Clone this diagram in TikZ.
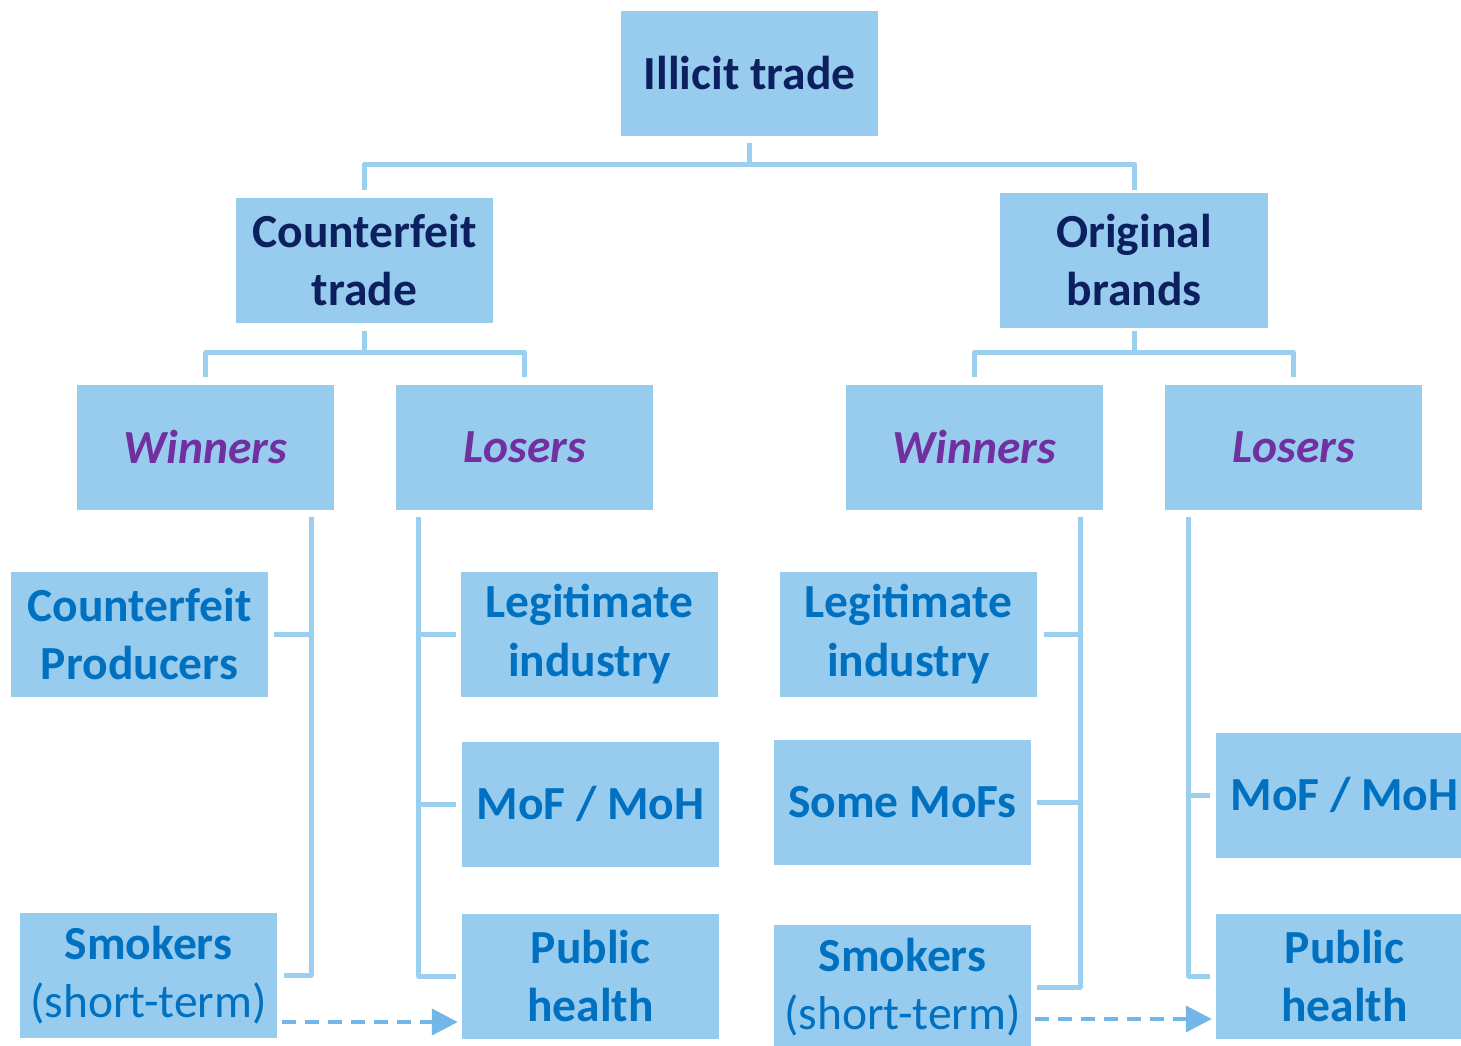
\documentclass[tikz,border=0pt]{standalone}
\usepackage{fontspec}
\setmainfont{Carlito}
\usetikzlibrary{positioning, calc, arrows.meta}

\definecolor{boxblue}{HTML}{98CCEE}
\definecolor{linkblue}{HTML}{9ACFEF}
\definecolor{arrowblue}{HTML}{72B7E8}
\definecolor{navytext}{HTML}{0C1F5E}
\definecolor{purpletext}{HTML}{7030A0}
\definecolor{leaftext}{HTML}{0070C0}

\tikzset{
  box/.style={fill=boxblue, inner sep=0pt, minimum width=257pt, minimum height=125pt,
              align=center, font=\fontsize{47.5}{58.5}\selectfont\bfseries},
  head/.style={box, text=navytext},
  side/.style={box, text=purpletext, font=\fontsize{47.5}{58.5}\selectfont\bfseries\itshape},
  leaf/.style={box, text=leaftext},
  link/.style={draw=linkblue, line width=5pt, line join=round},
  dasharrow/.style={draw=arrowblue, line width=4pt, dash pattern=on 14pt off 9pt,
                    -{Triangle[length=26pt, width=26pt]}}
}

\begin{document}
\begin{tikzpicture}[x=1pt, y=-1pt]
  \clip (0,0) rectangle (1461,1046);

  % top levels
  \node[head] (top) at (749.5,73.5) {Illicit trade};
  \node[head] (ct) at (364.5,260) {Counterfeit\\trade};
  \node[head, minimum width=268pt, minimum height=135pt] (ob) at (1134,260) {Original\\brands};

  \node[side] (wL) at (205.5,447) {Winners};
  \node[side] (lL) at (524.5,447) {Losers};
  \node[side] (wR) at (974.5,447) {Winners};
  \node[side] (lR) at (1293.5,447) {Losers};

  % counterfeit trade leaves
  \node[leaf] (cp) at (139.5,634) {Counterfeit\\Producers};
  \node[leaf] (smL) at (148.5,975) {Smokers\\{\mdseries(short-term)}};
  \node[leaf] (liL) at (589.5,634) {Legitimate\\industry};
  \node[leaf] (moL) at (590.5,804) {MoF / MoH};
  \node[leaf] (phL) at (590.5,976) {Public\\health};

  % original brands leaves
  \node[leaf] (liR) at (908.5,634) {Legitimate\\industry};
  \node[leaf] (smf) at (902.5,802) {Some MoFs};
  \node[leaf] (smR) at (902.5,987) {Smokers\\{\mdseries(short-term)}};
  \node[leaf] (moR) at (1344.5,795) {MoF / MoH};
  \node[leaf] (phR) at (1344.5,976) {Public\\health};

  % tree links
  \draw[link] ([yshift=-7pt]top.south) -- ++(0,21) coordinate (topbus);
  \draw[link] ([yshift=7pt]ct.north) |- (topbus) -| ([yshift=2pt]ob.north);

  \draw[link] ([yshift=-8pt]ct.south) -- ++(0,22) coordinate (ctbus);
  \draw[link] ([yshift=7pt]wL.north) |- (ctbus) -| ([yshift=7pt]lL.north);

  \draw[link] ([yshift=-3pt]ob.south) -- ++(0,22) coordinate (obbus);
  \draw[link] ([yshift=7pt]wR.north) |- (obbus) -| ([yshift=7pt]lR.north);

  % brackets
  \coordinate (wLbus) at ([shift={(-23pt,-7pt)}]wL.south east);
  \draw[link] (wLbus) |- ([xshift=7pt]smL.east);
  \draw[link] ([xshift=6pt]cp.east) -- (cp.east -| wLbus);

  \coordinate (lLbus) at ([shift={(23pt,-7pt)}]lL.south west);
  \draw[link] (lLbus) |- ([xshift=-6pt]phL.west);
  \draw[link] ([xshift=-5pt]liL.west) -- (liL.west -| lLbus);
  \draw[link] ([xshift=-6pt]moL.west) -- (moL.west -| lLbus);

  \coordinate (wRbus) at ([shift={(-23pt,-7pt)}]wR.south east);
  \draw[link] (wRbus) |- ([xshift=6pt]smR.east);
  \draw[link] ([xshift=7pt]liR.east) -- (liR.east -| wRbus);
  \draw[link] ([xshift=6pt]smf.east) -- (smf.east -| wRbus);

  \coordinate (lRbus) at ([shift={(24pt,-7pt)}]lR.south west);
  \draw[link] (lRbus) |- ([xshift=-6pt]phR.west);
  \draw[link] ([xshift=-6pt]moR.west) -- (moR.west -| lRbus);

  % dashed arrows
  \draw[dasharrow] ([shift={(5pt,-47pt)}]smL.east) coordinate (s1) -- ([xshift=-4pt]phL.west |- s1);
  \draw[dasharrow] ([shift={(4pt,-32pt)}]smR.east) coordinate (s2) -- ([xshift=-4pt]phR.west |- s2);
\end{tikzpicture}
\end{document}
